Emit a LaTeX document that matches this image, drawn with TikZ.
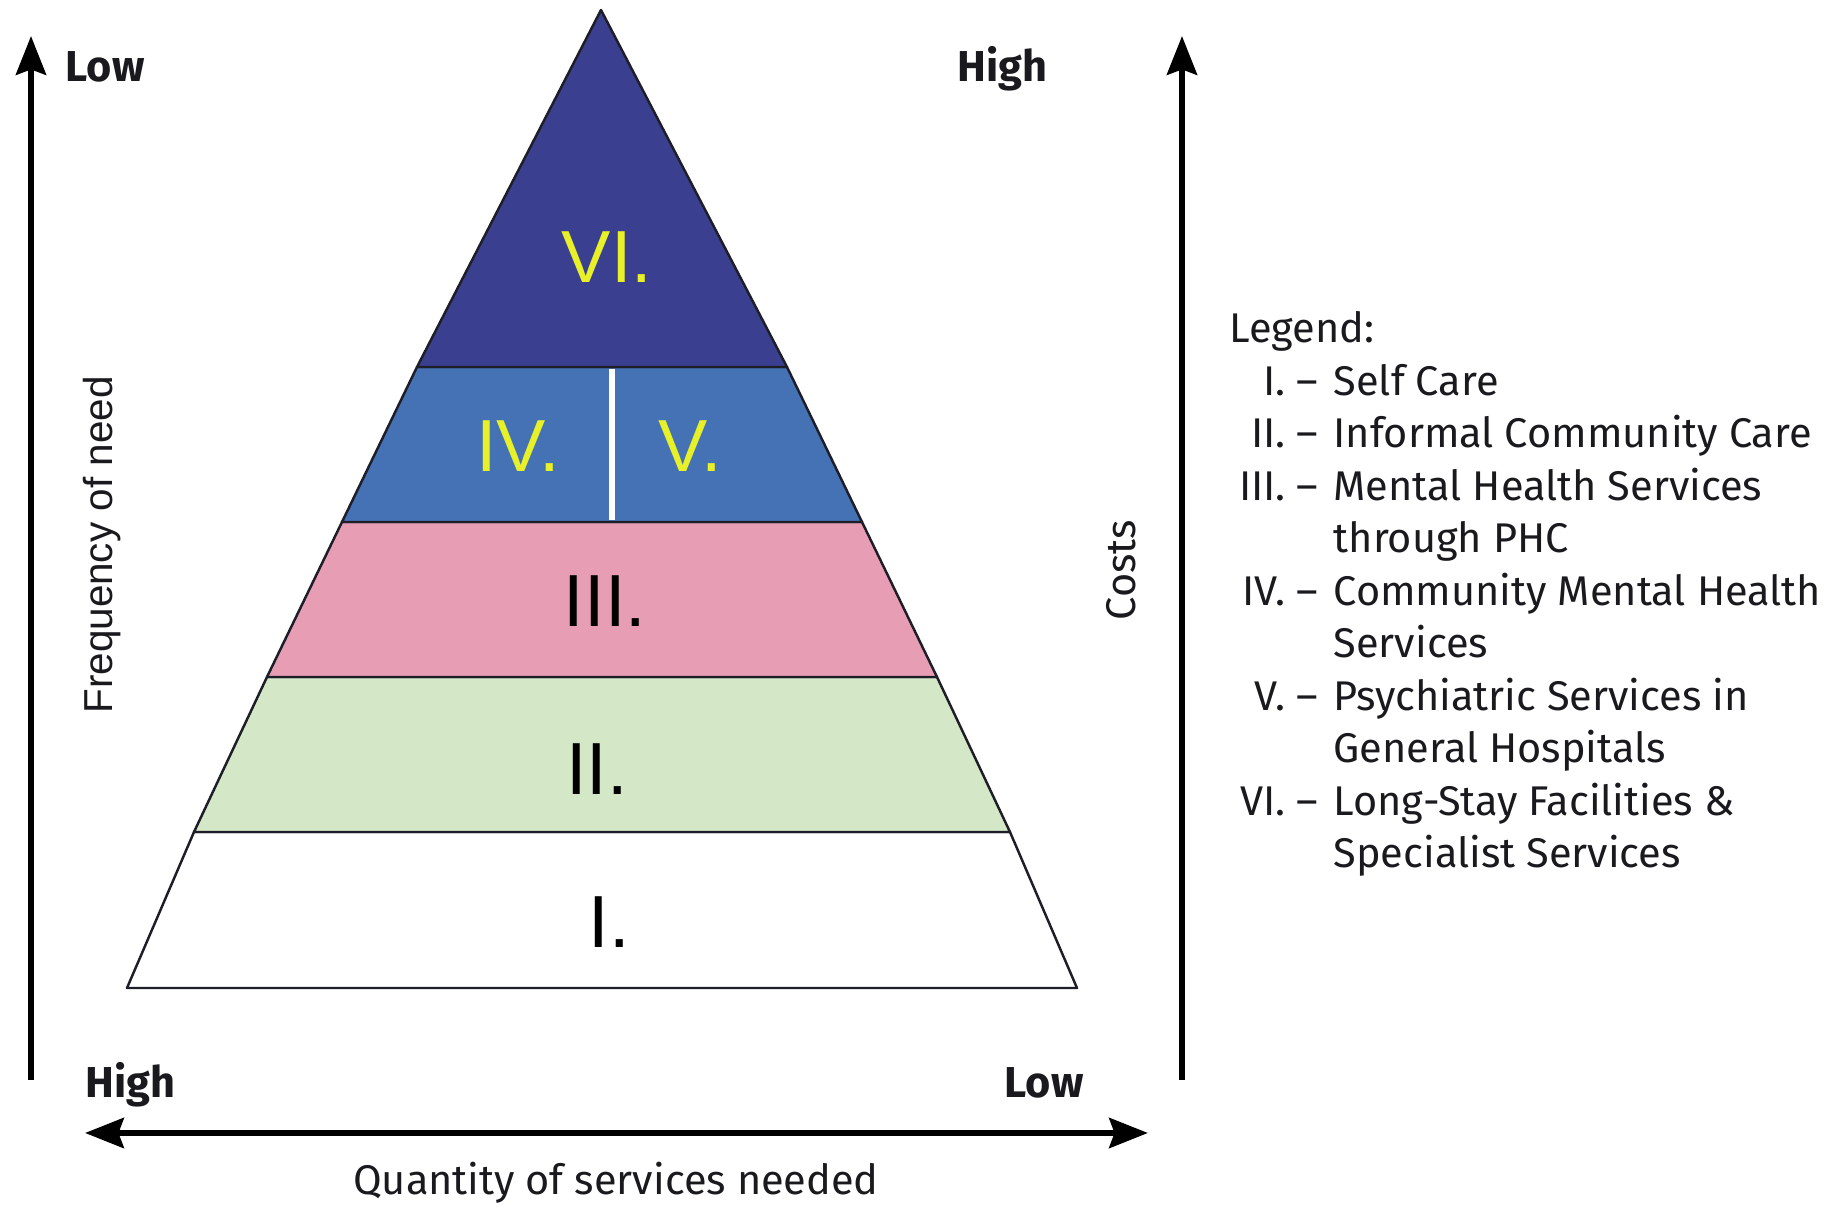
\documentclass[tikz,border=0pt]{standalone}
\usepackage{fontspec}
\setmainfont{Fira Sans}
\newfontfamily\arialf{Liberation Sans}
\usetikzlibrary{arrows.meta}
\definecolor{cVI}{RGB}{59,63,143}
\definecolor{cIV}{RGB}{68,114,180}
\definecolor{cIII}{RGB}{231,158,181}
\definecolor{cII}{RGB}{212,232,200}
\definecolor{cYel}{RGB}{232,240,40}
\definecolor{cEdge}{RGB}{30,30,40}
\definecolor{cText}{RGB}{25,25,30}
\tikzset{
  band/.style={draw=cEdge, line width=0.7pt, line join=round},
  axis/.style={line width=1.8pt, draw=black, -{Stealth[length=11pt,width=8.5pt,inset=1.5pt]}},
  biaxis/.style={line width=1.8pt, draw=black, {Stealth[length=11pt,width=8.5pt,inset=1.5pt]}-{Stealth[length=11pt,width=8.5pt,inset=1.5pt]}},
  endlab/.style={font=\fontsize{12.3}{14}\selectfont\bfseries, text=cText, inner sep=0pt},
  axlab/.style={font=\fontsize{11.8}{14}\selectfont, text=cText, inner sep=0pt},
  numlab/.style={font=\arialf\fontsize{21}{24}\selectfont, inner sep=0pt},
  leg/.style={font=\fontsize{11.8}{14}\selectfont, text=cText, inner sep=0pt},
}
\begin{document}
\begin{tikzpicture}[x=0.01cm,y=-0.01cm]
\useasboundingbox (0,0) rectangle (1841,1207);
% pyramid corners
\coordinate (apex) at (601,10);
\coordinate (L1) at (417,367); \coordinate (R1) at (787,367);
\coordinate (L2) at (342,522); \coordinate (R2) at (862,522);
\coordinate (L3) at (267,677); \coordinate (R3) at (937,677);
\coordinate (L4) at (194,832); \coordinate (R4) at (1010,832);
\coordinate (L5) at (127,988); \coordinate (R5) at (1077,988);
% bands
\filldraw[band, fill=white] (L4) -- (R4) -- (R5) -- (L5) -- cycle;
\filldraw[band, fill=cII] (L3) -- (R3) -- (R4) -- (L4) -- cycle;
\filldraw[band, fill=cIII] (L2) -- (R2) -- (R3) -- (L3) -- cycle;
\filldraw[band, fill=cIV] (L1) -- (R1) -- (R2) -- (L2) -- cycle;
\filldraw[band, fill=cVI] (apex) -- (R1) -- (L1) -- cycle;
% divider
\coordinate (dT) at (612,369);
\coordinate (dB) at (612,520);
\draw[white, line width=1.5pt] (dT) -- (dB);
% band labels
\node[numlab, text=cYel] (nVI) at (607,257) {VI.};
\node[numlab, text=cYel] (nIV) at (518,446) {IV.};
\node[numlab, text=cYel] (nV) at (690,446) {V.};
\node[numlab, text=black] (nIII) at (605,601) {III.};
\node[numlab, text=black] (nII) at (597,769) {II.};
\node[numlab, text=black] (nI) at (609,922) {I.};
% axes
\coordinate (lB) at (31,1080); \coordinate (lT) at (31,36);
\coordinate (rB) at (1182,1080); \coordinate (rT) at (1182,36);
\coordinate (hL) at (85,1133); \coordinate (hR) at (1148,1133);
\draw[axis] (lB) -- (lT);
\draw[axis] (rB) -- (rT);
\draw[biaxis] (hL) -- (hR);
% axis end labels
\node[endlab, anchor=base west] (lowTL) at (65,82) {Low};
\node[endlab, anchor=base west] (highTR) at (957,82) {High};
\node[endlab, anchor=base west] (highBL) at (85,1098) {High};
\node[endlab, anchor=base west] (lowBR) at (1004,1098) {Low};
% axis titles
\node[font=\arialf\fontsize{11.5}{14}\selectfont, text=cText, rotate=90, inner sep=0pt] (freq) at (102,545) {Frequency of need};
\node[axlab, rotate=90] (costs) at (1121,570) {Costs};
\node[axlab, anchor=base] (qty) at (616,1195) {Quantity of services needed};
% legend
\node[leg, anchor=base west] (legT) at (1229,343) {Legend:};
\node[leg, anchor=base east] (k1) at (1319,396) {I. –};
\node[leg, anchor=base west] (t1) at (1333,396) {Self Care};
\node[leg, anchor=base east] (k2) at (1319,448) {II. –};
\node[leg, anchor=base west] (t2) at (1333,448) {Informal Community Care};
\node[leg, anchor=base east] (k3) at (1319,501) {III. –};
\node[leg, anchor=base west] (t3) at (1333,501) {Mental Health Services};
\node[leg, anchor=base west] (t3b) at (1333,553) {through PHC};
\node[leg, anchor=base east] (k4) at (1319,606) {IV. –};
\node[leg, anchor=base west] (t4) at (1333,606) {Community Mental Health};
\node[leg, anchor=base west] (t4b) at (1333,658) {Services};
\node[leg, anchor=base east] (k5) at (1319,711) {V. –};
\node[leg, anchor=base west] (t5) at (1333,711) {Psychiatric Services in};
\node[leg, anchor=base west] (t5b) at (1333,763) {General Hospitals};
\node[leg, anchor=base east] (k6) at (1319,816) {VI. –};
\node[leg, anchor=base west] (t6) at (1333,816) {Long-Stay Facilities \&};
\node[leg, anchor=base west] (t6b) at (1333,868) {Specialist Services};
\end{tikzpicture}
\end{document}
